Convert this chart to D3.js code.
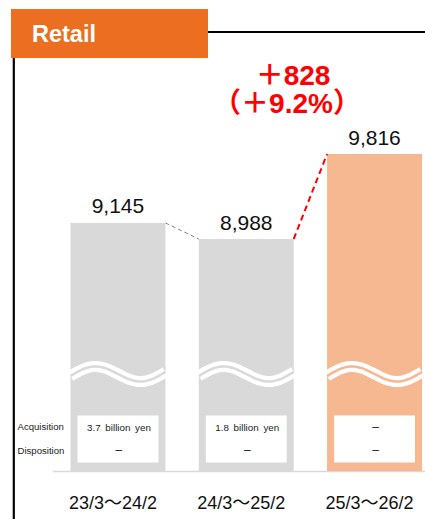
<!DOCTYPE html>
<html>
<head>
<meta charset="utf-8">
<script src="https://cdn.jsdelivr.net/npm/d3@7/dist/d3.min.js"></script>
<style>
html,body{margin:0;padding:0;background:#fff;}
svg{display:block;}
text{font-family:"Liberation Sans",Arial,"Noto Sans CJK JP",sans-serif;}
</style>
</head>
<body>
<svg id="chart" width="425" height="519"></svg>
<script>
const categories = ["23/3～24/2", "24/3～25/2", "25/3～26/2"];
const values = [9145, 8988, 9816];
const acquisition = ["3.7 billion yen", "1.8 billion yen", "–"];
const disposition = ["–", "–", "–"];
const rowLabels = ["Acquisition", "Disposition"];
const title = "Retail";
const changeLabel = "＋828";
const changePct = "（＋9.2%）";

const barColors = ["#d9d9d9", "#d9d9d9", "#f5b891"];
const svg = d3.select("#chart");

const x = d3.scaleBand().domain(categories).range([70.5, 422]).paddingInner(0.26).paddingOuter(0);
const y = d3.scaleLinear().domain([6730, 9816]).range([471, 154]);
const bw = x.bandwidth();
const fmt = d3.format(",");

// header
svg.append("rect").attr("x", 11).attr("y", 9).attr("width", 197).attr("height", 49).attr("fill", "#ec6f21");
svg.append("text").attr("x", 32).attr("y", 42).attr("fill", "#fff").attr("font-weight", "bold").attr("font-size", 23.5).text(title);
svg.append("line").attr("x1", 208).attr("x2", 425).attr("y1", 32).attr("y2", 32).attr("stroke", "#000").attr("stroke-width", 2.2);
svg.append("line").attr("x1", 13.8).attr("x2", 13.8).attr("y1", 58).attr("y2", 519).attr("stroke", "#000").attr("stroke-width", 2.2);

// baseline
svg.append("line").attr("x1", 53).attr("x2", 425).attr("y1", 471.5).attr("y2", 471.5).attr("stroke", "#d9d9d9").attr("stroke-width", 1.5);

// bars
svg.append("g").selectAll("rect").data(values).join("rect")
  .attr("x", (d, i) => x(categories[i]))
  .attr("y", d => y(d))
  .attr("width", bw)
  .attr("height", d => y.range()[0] - y(d))
  .attr("fill", (d, i) => barColors[i]);

// wave breaks
const waveC = 374, waveA = 8.5;
categories.forEach((c, i) => {
  const x0 = x(c);
  const pts = d3.range(0, 1.0001, 0.02).map(t => [x0 + t * bw, waveC - waveA * Math.sin(2 * Math.PI * (t + 0.0)) + 2 - 4 * t]);
  const line = d3.line().curve(d3.curveBasis);
  svg.append("path").attr("d", line(pts)).attr("fill", "none").attr("stroke", "#fff").attr("stroke-width", 11);
  svg.append("path").attr("d", line(pts)).attr("fill", "none").attr("stroke", barColors[i]).attr("stroke-width", 2.5);
});

// value labels
svg.append("g").selectAll("text").data(values).join("text")
  .attr("x", (d, i) => x(categories[i]) + bw / 2)
  .attr("y", d => y(d) - 9.5)
  .attr("text-anchor", "middle")
  .attr("font-size", 21)
  .attr("fill", "#111")
  .text(d => fmt(d));

// connector lines
svg.append("line")
  .attr("x1", x(categories[0]) + bw).attr("y1", y(values[0]))
  .attr("x2", x(categories[1])).attr("y2", y(values[1]))
  .attr("stroke", "#808080").attr("stroke-width", 1).attr("stroke-dasharray", "4,3");
svg.append("line")
  .attr("x1", x(categories[1]) + bw).attr("y1", y(values[1]))
  .attr("x2", x(categories[2])).attr("y2", y(values[2]))
  .attr("stroke", "#ff0000").attr("stroke-width", 2).attr("stroke-dasharray", "6,4");

// change annotation
svg.append("text").attr("x", 293).attr("y", 85).attr("text-anchor", "middle")
  .attr("font-size", 28).attr("font-weight", "bold").attr("fill", "#ff0000").text(changeLabel);
svg.append("text").attr("x", 287).attr("y", 113).attr("text-anchor", "middle")
  .attr("font-size", 28).attr("font-weight", "bold").attr("fill", "#ff0000").text(changePct);

// table boxes
function cell(t, cx, cy) {
  const isDash = t === "–";
  svg.append("text").attr("x", cx).attr("y", isDash ? cy + 0.5 : cy).attr("text-anchor", "middle")
    .attr("font-size", isDash ? 12 : 9.8).attr("fill", "#222")
    .attr("word-spacing", 2)
    .text(t);
}
categories.forEach((c, i) => {
  const bx = x(c) + 7, bwid = bw - 14;
  svg.append("rect").attr("x", bx).attr("y", 415.5).attr("width", bwid).attr("height", 47).attr("fill", "#fff");
  cell(acquisition[i], bx + bwid / 2 + 1, 430.5);
  cell(disposition[i], bx + bwid / 2 + 1, 453.5);
});
rowLabels.forEach((r, j) => {
  svg.append("text").attr("x", 17.5).attr("y", 430 + j * 23.5).attr("font-size", 9.6).attr("fill", "#222").text(r);
});

// x axis labels
svg.append("g").selectAll("text").data(categories).join("text")
  .attr("x", d => x(d) + bw / 2 - 5)
  .attr("y", 508.5)
  .attr("text-anchor", "middle")
  .attr("font-size", 18)
  .attr("fill", "#111")
  .text(d => d);
</script>
</body>
</html>
